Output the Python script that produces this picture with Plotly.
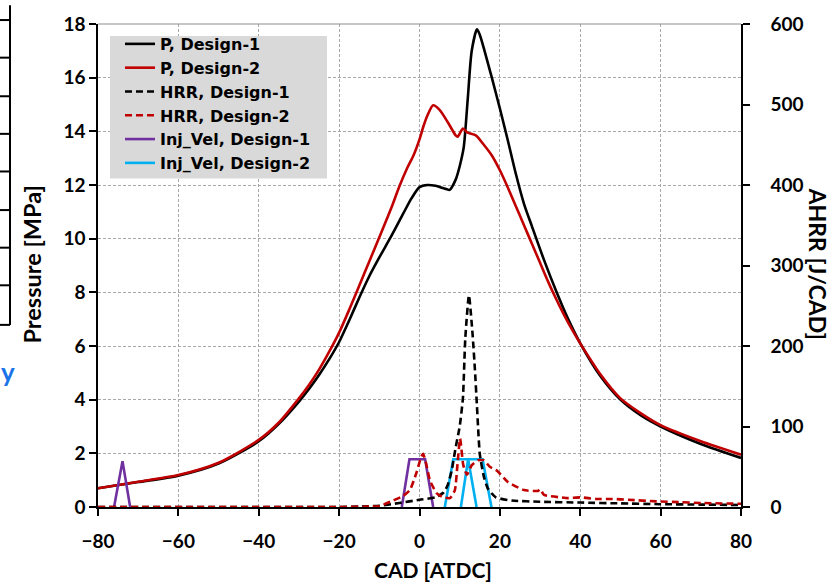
import plotly.graph_objects as go

# Cylinder pressure [MPa] vs crank angle [deg ATDC]
cad_p1 = [-80, -70, -60, -50, -40, -35, -30, -27.5, -25, -22.5, -20, -17.5, -15, -12.5, -10, -7,
          -4, -2, 0, 2, 4, 6, 7.5, 9, 10, 11, 12, 13, 14.3, 15, 16, 17, 18, 20, 22, 24, 26, 28,
          31, 34, 37, 40, 45, 50, 55, 60, 70, 80]
p_design1 = [0.70, 0.93, 1.17, 1.62, 2.45, 3.10, 3.93, 4.40, 4.92, 5.50, 6.15, 6.95, 7.80, 8.60,
             9.30, 10.10, 10.95, 11.50, 11.92, 12.00, 11.97, 11.88, 11.82, 12.20, 12.70, 13.40,
             15.20, 17.00, 17.80, 17.60, 17.10, 16.55, 16.00, 14.85, 13.65, 12.40, 11.30, 10.45,
             9.20, 8.05, 7.00, 6.10, 4.88, 4.00, 3.42, 3.00, 2.35, 1.83]

cad_p2 = [-80, -70, -60, -50, -40, -35, -30, -27.5, -25, -22.5, -20, -17.5, -15, -12.5, -10, -7,
          -5, -3, -1.5, 0, 1, 2, 3.4, 5, 7, 9, 9.5, 10.8, 12, 14, 16, 18, 20, 22, 24, 26, 28, 30,
          32, 34, 36, 38, 40, 45, 50, 55, 60, 70, 80]
p_design2 = [0.70, 0.94, 1.19, 1.65, 2.50, 3.15, 4.05, 4.55, 5.12, 5.78, 6.50, 7.35, 8.25, 9.15,
             10.05, 11.15, 11.95, 12.65, 13.10, 13.70, 14.20, 14.60, 14.97, 14.80, 14.35, 13.85,
             13.80, 14.10, 13.95, 13.85, 13.50, 13.10, 12.55, 11.90, 11.20, 10.50, 9.80, 9.10,
             8.40, 7.75, 7.15, 6.60, 6.10, 4.95, 4.05, 3.50, 3.05, 2.45, 1.95]

# Apparent heat release rate [J/CAD]
cad_hrr1 = [-80, -20, -15, -10, -5, 0, 4, 6, 7, 8, 9, 10, 10.8, 11.4, 12.3, 13.2, 13.8, 14.3,
            15, 16, 17, 19, 23, 30, 40, 50, 60, 70, 80]
hrr_design1 = [0, 0, 0.5, 1.5, 5, 9, 12, 18, 27, 45, 74, 100, 135, 210, 263, 215, 170, 125,
               66, 38, 23, 12, 8, 6.5, 5.5, 4.5, 3.5, 3, 2.5]

cad_hrr2 = [-80, -20, -12, -10, -6.6, -4, -2.4, -0.8, 0.4, 0.9, 1.6, 2.6, 4.3, 6, 7.6, 8.8, 9.4,
            10.1, 10.9, 11.8, 13, 14.5, 16, 17.5, 19.3, 22, 26, 29.5, 30, 31, 35, 37, 40, 44, 48,
            52, 59, 65, 70, 80]
hrr_design2 = [0, 0, 0.5, 1, 8, 14, 21, 42, 62, 66, 55, 33, 17, 12, 11, 21, 50, 85, 52, 40, 52,
               58, 58, 50, 45, 31, 21, 20, 22, 15, 12, 11, 12, 10, 10, 9, 7, 6, 5, 4]

# Injection velocity profiles (pilot + main for Design-1, split main for Design-2)
cad_inj1 = [-76, -73.9, -72, None, -4.4, -2.5, 1.4, 3.4]
inj_design1 = [0, 1.71, 0, None, 0, 1.78, 1.78, 0]

cad_inj2 = [6.3, 8.4, 15.7, 17.9, None, 10.3, 12.1, 14.2]
inj_design2 = [0, 1.78, 1.78, 0, None, 0, 1.78, 0]

x_ticks = list(range(-80, 81, 20))
p_ticks = list(range(0, 19, 2))
hrr_ticks = list(range(0, 601, 100))

FONT = "Lato"
BLACK = "#000000"
RED = "#c00000"
PURPLE = "#7030a0"
CYAN = "#00b0f0"

fig = go.Figure()
fig.add_trace(go.Scatter(x=cad_p1, y=p_design1, name="P, Design-1", mode="lines",
                         line=dict(color=BLACK, width=2.6, shape="spline", smoothing=0.7)))
fig.add_trace(go.Scatter(x=cad_p2, y=p_design2, name="P, Design-2", mode="lines",
                         line=dict(color=RED, width=2.6, shape="spline", smoothing=0.7)))
fig.add_trace(go.Scatter(x=cad_hrr1, y=hrr_design1, name="HRR, Design-1", mode="lines", yaxis="y2",
                         line=dict(color=BLACK, width=2.6, dash="7px,4px", shape="spline", smoothing=0.5)))
fig.add_trace(go.Scatter(x=cad_hrr2, y=hrr_design2, name="HRR, Design-2", mode="lines", yaxis="y2",
                         line=dict(color=RED, width=2.6, dash="7px,4px", shape="spline", smoothing=0.5)))
fig.add_trace(go.Scatter(x=cad_inj1, y=inj_design1, name="Inj_Vel, Design-1", mode="lines",
                         connectgaps=False, line=dict(color=PURPLE, width=2.6)))
fig.add_trace(go.Scatter(x=cad_inj2, y=inj_design2, name="Inj_Vel, Design-2", mode="lines",
                         connectgaps=False, line=dict(color=CYAN, width=2.6)))

# plot-area geometry in pixels (839 x 584 canvas)
L, R, T, B = 98, 741, 19, 507
W, H = 839, 584


def px(xp):
    return (xp - L) / (R - L)


def py(yp):
    return (B - yp) / (B - T)


grid = dict(showgrid=True, gridcolor="#a8a8a8", gridwidth=1, griddash="3px,2px")
tickfont = dict(family=FONT, size=19, color=BLACK, weight="bold")
axis_common = dict(ticks="outside", ticklen=7, tickwidth=1.5, tickcolor=BLACK, showline=True,
                   linecolor=BLACK, linewidth=1.5, zeroline=False, tickfont=tickfont)

fig.update_layout(
    width=W, height=H,
    margin=dict(l=L, r=W - R, t=T, b=H - B),
    paper_bgcolor="white", plot_bgcolor="white",
    showlegend=True,
    legend=dict(x=px(120), y=py(22), xanchor="left", yanchor="top",
                bgcolor="rgba(0,0,0,0)", borderwidth=0, itemwidth=30,
                font=dict(family="DejaVu Sans", size=16, color=BLACK, weight="bold"),
                tracegroupgap=0),
    xaxis=dict(range=[-80, 80], tickvals=x_ticks, ticklabelstandoff=9, **axis_common, **grid),
    yaxis=dict(range=[0, 18], tickvals=p_ticks, **axis_common, **grid),
    yaxis2=dict(range=[0, 600], tickvals=hrr_ticks, overlaying="y", side="right",
                ticklabelstandoff=17, showgrid=False, **axis_common),
)

# grey legend panel
fig.add_shape(type="rect", xref="paper", yref="paper", x0=px(110), x1=px(327), y0=py(175), y1=py(31),
              fillcolor="#d9d9d9", line=dict(width=0), layer="above")

# top frame edge
fig.add_shape(type="line", xref="paper", yref="paper", x0=0, x1=1, y0=1, y1=1,
              line=dict(color="#8c8c8c", width=1))

# axis titles
title_font = dict(family=FONT, color=BLACK, weight="bold")
fig.add_annotation(text="CAD [ATDC]", xref="paper", yref="paper", x=px(433), y=py(570),
                   xanchor="center", yanchor="middle",
                   showarrow=False, font=dict(size=21, **title_font))
fig.add_annotation(text="Pressure [MPa]", xref="paper", yref="paper", x=px(32), y=py(262),
                   xanchor="center", yanchor="middle",
                   textangle=-90, showarrow=False, font=dict(size=23.5, **title_font))
fig.add_annotation(text="AHRR [J/CAD]", xref="paper", yref="paper", x=px(818), y=py(261),
                   xanchor="center", yanchor="middle",
                   textangle=90, showarrow=False, font=dict(size=23, **title_font))

# edge of the neighbouring panel on the far left
fig.add_shape(type="line", xref="paper", yref="paper", x0=px(10), x1=px(10), y0=py(0), y1=py(323),
              line=dict(color=BLACK, width=2))
for ty in [15, 53, 92, 130, 168, 207, 245, 283, 323]:
    fig.add_shape(type="line", xref="paper", yref="paper", x0=px(0), x1=px(10), y0=py(ty), y1=py(ty),
                  line=dict(color=BLACK, width=2))
fig.add_annotation(text="y", xref="paper", yref="paper", x=px(0), y=py(388), xanchor="left",
                   showarrow=False, borderpad=0,
                   font=dict(family=FONT, size=26, color="#1a73e8", weight="bold"))

fig.write_html("out.html")
